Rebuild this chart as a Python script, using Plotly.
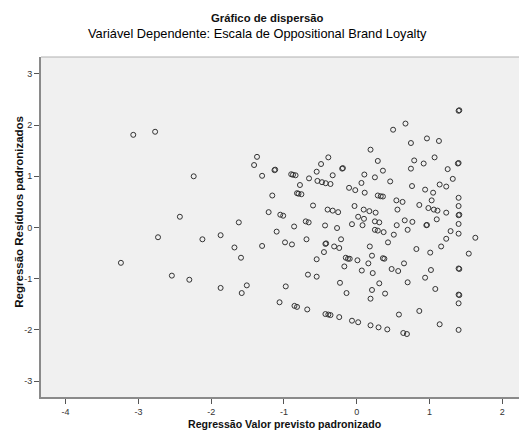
import plotly.graph_objects as go

title_text = "Gráfico de dispersão"
subtitle_text = "Variável Dependente: Escala de Oppositional Brand Loyalty"
x_label = "Regressão Valor previsto padronizado"
y_label = "Regressão Resíduos padronizados"
x_ticks = [-4, -3, -2, -1, 0, 1, 2]
y_ticks = [-3, -2, -1, 0, 1, 2, 3]

pred = [
    -3.24, -3.07, -2.77, -2.24, -2.43, -1.62, -2.73, -2.12, -1.87, -1.68, -1.59, -2.54, -2.30, -1.87, -1.51, -1.58,
    -1.37, -1.41, -1.30, -1.13, -1.12, -0.90, -0.875, -0.84, -0.78, -0.655, -0.49, -0.55, -0.39,
    -0.54, -0.477, -0.426, -0.36, -1.16, -0.82, -0.80, -0.76, -0.60, -0.40, -0.33, -0.255,
    -1.21, -1.05, -1.01, -0.70, -0.66, -0.86, -0.435,
    -1.10, -1.30, -0.985, -0.89, -0.69, -0.43, -0.42, -0.45, -0.55, -0.67, -0.55, -0.975, -1.06,
    -0.855, -0.82, -0.68, -0.43, -0.39, -0.36,
    -0.33, -0.20, -0.19, 0.19, 0.29, 0.36, 0.25, 0.105, 0.065, 0.46, 0.50, 0.67, -0.105, -0.02, 0.11,
    0.29, 0.33, 0.36, 0.545, 0.63, 0.56, -0.03, 0.096, 0.174, 0.26, 0.02, 0.10, 0.25, 0.31,
    -0.065, 0.08, -0.27, 0.55, 0.66,
    0.25, 0.29, 0.37, 0.70, 0.51, 0.43, -0.215, -0.31, -0.24, 0.18, 0.21, -0.15, -0.12, -0.096,
    0.01, 0.16, 0.36, 0.38, -0.17, 0.07, 0.22, 0.48, 0.57, 0.65, 0.70, -0.23, 0.31, -0.14, 0.21,
    0.39, 0.19, 0.58, -0.24, -0.065, 0.02, 0.19, 0.30, 0.42, 0.64, 0.69,
    0.745, 0.965, 1.13, 0.79, 0.745, 0.92, 1.07, 1.25, 1.39, 1.40, 1.32, 0.76, 0.94, 1.05, 1.14, 1.23,
    1.03, 0.86, 0.985, 1.06, 1.11, 1.23, 1.10, 1.40, 1.40, 1.40, 1.41, 1.40, 0.765, 0.957, 0.965,
    1.29, 1.40, 1.23, 1.16, 1.63, 0.82, 1.01, 1.54, 1.02, 0.94, 1.40, 1.41, 1.08, 1.40, 1.41, 1.40,
    0.86, 1.14, 1.40,
    1.40, 1.41,
]
resid = [
    -0.69, 1.81, 1.87, 1.00, 0.21, 0.10, -0.19, -0.23, -0.15, -0.39, -0.59, -0.94, -1.02, -1.18, -1.13, -1.28,
    1.38, 1.22, 1.01, 1.12, 1.13, 1.04, 1.03, 1.02, 0.83, 0.96, 1.24, 1.09, 1.37,
    0.91, 0.885, 0.865, 0.85, 0.625, 0.67, 0.66, 0.65, 0.43, 0.35, 0.33, 0.30,
    0.30, 0.25, 0.23, 0.12, 0.10, 0.02, 0.04,
    -0.08, -0.36, -0.29, -0.33, -0.23, -0.32, -0.31, -0.48, -0.62, -0.92, -0.96, -1.15, -1.46,
    -1.53, -1.55, -1.60, -1.69, -1.70, -1.71,
    1.02, 1.15, 1.16, 1.52, 1.30, 1.11, 0.98, 1.035, 0.87, 0.90, 1.91, 2.03, 0.775, 0.73, 0.68,
    0.625, 0.61, 0.605, 0.53, 0.50, 0.35, 0.42, 0.35, 0.32, 0.29, 0.21, 0.17, 0.12, 0.10,
    0.065, 0.045, -0.01, 0.045, 0.14,
    -0.045, -0.06, -0.09, -0.045, -0.14, -0.29, -0.23, -0.37, -0.40, -0.37, -0.55, -0.59, -0.61, -0.61,
    -0.64, -0.70, -0.60, -0.61, -0.76, -0.84, -0.89, -0.81, -0.85, -0.70, -1.07, -1.08, -1.09, -1.28, -1.22,
    -1.29, -1.39, -1.70, -1.75, -1.82, -1.85, -1.91, -1.95, -1.99, -2.06, -2.08,
    1.65, 1.74, 1.69, 1.31, 1.15, 1.25, 1.37, 1.14, 1.25, 1.26, 0.95, 0.81, 0.74, 0.68, 0.84, 0.80,
    0.53, 0.44, 0.38, 0.35, 0.33, 0.29, 0.16, 0.58, 0.42, 0.24, 0.25, 0.07, 0.11, 0.045, 0.05,
    -0.07, -0.12, -0.22, -0.37, -0.20, -0.42, -0.49, -0.51, -0.83, -0.98, -0.80, -0.81, -1.20, -1.31, -1.32, -1.48,
    -1.63, -1.89, -2.00,
    2.28, 2.29,
]

font_family = "Arial, Liberation Sans, sans-serif"

fig = go.Figure()
fig.add_trace(go.Scatter(
    x=pred, y=resid, mode="markers",
    marker=dict(symbol="circle-open", size=5, color="#333333", line=dict(width=1, color="#333333")),
    showlegend=False, hoverinfo="x+y",
))

fig.update_layout(
    width=519, height=441,
    margin=dict(l=41, r=0, t=57, b=44),
    paper_bgcolor="white",
    plot_bgcolor="#f0f0f0",
    font=dict(family=font_family, color="#222222"),
    xaxis=dict(
        range=[-4.338, 2.23], tickvals=x_ticks, ticktext=[str(v) for v in x_ticks],
        showgrid=False, zeroline=False, showline=True, linecolor="#8a8a8a", linewidth=2,
        ticks="outside", ticklen=5, tickcolor="#555555", tickwidth=1,
        tickfont=dict(size=9, color="#333333"),
    ),
    yaxis=dict(
        range=[-3.31, 3.33], tickvals=y_ticks, ticktext=[str(v) for v in y_ticks],
        showgrid=False, zeroline=False, showline=True, linecolor="#8a8a8a", linewidth=2,
        ticks="outside", ticklen=5, tickcolor="#555555", tickwidth=1,
        tickfont=dict(size=9, color="#333333"),
    ),
    shapes=[dict(type="line", xref="paper", yref="paper", x0=0, x1=1, y0=1, y1=1,
                 line=dict(color="#b0b0b0", width=1))],
    annotations=[
        dict(text="<b>" + title_text + "</b>", xref="paper", yref="paper", x=0.473, y=1.0, yshift=39,
             showarrow=False, font=dict(size=11.3, color="#111111"), xanchor="center", yanchor="middle"),
        dict(text=subtitle_text, xref="paper", yref="paper", x=0.453, y=1.0, yshift=24,
             showarrow=False, font=dict(size=12.8, color="#000000"), xanchor="center", yanchor="middle"),
        dict(text="<b>" + x_label + "</b>", xref="paper", yref="paper", x=0.51, y=0, yshift=-27,
             showarrow=False, font=dict(size=10.6, color="#111111"), xanchor="center", yanchor="middle"),
        dict(text="<b>" + y_label + "</b>", xref="paper", yref="paper", x=0, xshift=-22, y=0.545,
             showarrow=False, textangle=-90, font=dict(size=11.5, color="#111111"),
             xanchor="center", yanchor="middle"),
    ],
)

fig.write_html("out.html")
